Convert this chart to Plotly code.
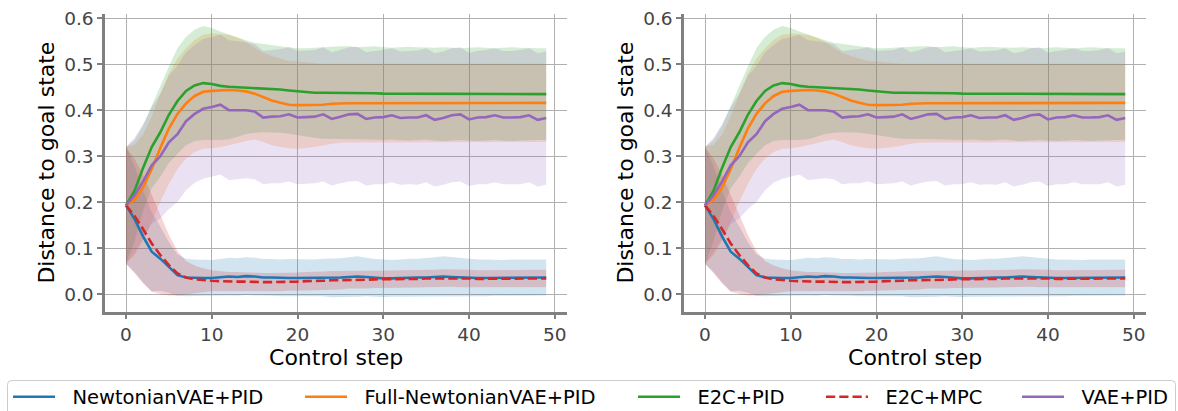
import plotly.graph_objects as go

# ---------------- data ----------------
steps = list(range(50))

names = ["NewtonianVAE+PID", "Full-NewtonianVAE+PID", "E2C+PID", "E2C+MPC", "VAE+PID"]
colors = ["#1f77b4", "#ff7f0e", "#2ca02c", "#d62728", "#9467bd"]

newtonian_mean = [0.193, 0.163, 0.125, 0.092, 0.077, 0.058, 0.041, 0.036, 0.035, 0.035,
                  0.035, 0.036, 0.038, 0.037, 0.039, 0.038, 0.036, 0.036, 0.035, 0.035,
                  0.035, 0.035, 0.035, 0.036, 0.035, 0.036, 0.037, 0.038, 0.037, 0.035,
                  0.034, 0.034, 0.035, 0.036, 0.036, 0.036, 0.037, 0.038, 0.037, 0.036,
                  0.035, 0.035, 0.035, 0.035, 0.035, 0.036, 0.036, 0.036, 0.036, 0.036]
newtonian_std = [0.127, 0.115, 0.100, 0.086, 0.070, 0.055, 0.045, 0.041, 0.040, 0.039,
                 0.039, 0.040, 0.041, 0.041, 0.041, 0.041, 0.040, 0.040, 0.040, 0.041,
                 0.041, 0.040, 0.040, 0.041, 0.042, 0.042, 0.043, 0.044, 0.042, 0.041,
                 0.041, 0.040, 0.040, 0.041, 0.041, 0.042, 0.043, 0.044, 0.043, 0.042,
                 0.041, 0.040, 0.040, 0.039, 0.039, 0.039, 0.039, 0.039, 0.039, 0.039]

full_mean = [0.193, 0.205, 0.232, 0.272, 0.318, 0.360, 0.392, 0.415, 0.431, 0.440,
             0.442, 0.443, 0.444, 0.443, 0.441, 0.436, 0.428, 0.421, 0.416, 0.412,
             0.411, 0.411, 0.411, 0.412, 0.414, 0.415, 0.415, 0.415, 0.415, 0.415,
             0.415, 0.416, 0.416, 0.416, 0.416, 0.416, 0.416, 0.416, 0.416, 0.416,
             0.416, 0.416, 0.416, 0.416, 0.416, 0.416, 0.416, 0.416, 0.416, 0.416]
full_std = [0.127, 0.120, 0.115, 0.115, 0.117, 0.120, 0.120, 0.120, 0.122, 0.124,
            0.125, 0.123, 0.120, 0.115, 0.108, 0.100, 0.097, 0.097, 0.096, 0.095,
            0.095, 0.093, 0.091, 0.089, 0.087, 0.086, 0.085, 0.085, 0.085, 0.085,
            0.085, 0.085, 0.085, 0.085, 0.085, 0.085, 0.085, 0.085, 0.085, 0.085,
            0.085, 0.085, 0.085, 0.085, 0.085, 0.085, 0.085, 0.085, 0.085, 0.085]

e2c_pid_mean = [0.193, 0.225, 0.275, 0.320, 0.352, 0.390, 0.420, 0.442, 0.454, 0.459,
                0.457, 0.453, 0.451, 0.450, 0.450, 0.449, 0.448, 0.447, 0.445, 0.443,
                0.441, 0.439, 0.438, 0.438, 0.438, 0.438, 0.438, 0.437, 0.437, 0.437,
                0.436, 0.436, 0.436, 0.436, 0.436, 0.436, 0.435, 0.435, 0.435, 0.435,
                0.435, 0.435, 0.435, 0.435, 0.435, 0.435, 0.435, 0.435, 0.435, 0.435]
e2c_pid_std = [0.127, 0.110, 0.092, 0.090, 0.097, 0.105, 0.115, 0.118, 0.121, 0.124,
               0.122, 0.118, 0.114, 0.108, 0.102, 0.098, 0.096, 0.095, 0.094, 0.094,
               0.094, 0.096, 0.098, 0.100, 0.100, 0.101, 0.101, 0.100, 0.101, 0.102,
               0.101, 0.100, 0.101, 0.102, 0.101, 0.100, 0.101, 0.102, 0.101, 0.100,
               0.101, 0.102, 0.101, 0.100, 0.101, 0.102, 0.101, 0.100, 0.100, 0.100]

e2c_mpc_mean = [0.193, 0.170, 0.141, 0.110, 0.085, 0.063, 0.045, 0.036, 0.032, 0.030,
                0.029, 0.028, 0.027, 0.027, 0.027, 0.026, 0.026, 0.026, 0.026, 0.027,
                0.027, 0.028, 0.028, 0.029, 0.030, 0.030, 0.031, 0.031, 0.031, 0.032,
                0.032, 0.032, 0.033, 0.033, 0.033, 0.034, 0.034, 0.035, 0.035, 0.034,
                0.034, 0.033, 0.033, 0.033, 0.033, 0.033, 0.033, 0.034, 0.034, 0.034]
e2c_mpc_std = [0.127, 0.125, 0.118, 0.105, 0.085, 0.066, 0.048, 0.036, 0.030, 0.026,
               0.023, 0.022, 0.021, 0.021, 0.020, 0.020, 0.020, 0.020, 0.020, 0.020,
               0.020, 0.020, 0.020, 0.020, 0.020, 0.020, 0.019, 0.019, 0.019, 0.019,
               0.019, 0.019, 0.019, 0.019, 0.019, 0.019, 0.019, 0.019, 0.019, 0.019,
               0.019, 0.019, 0.019, 0.019, 0.019, 0.019, 0.019, 0.019, 0.019, 0.019]

vae_mean = [0.193, 0.215, 0.245, 0.280, 0.300, 0.330, 0.348, 0.376, 0.392, 0.403,
            0.407, 0.412, 0.400, 0.400, 0.400, 0.397, 0.384, 0.386, 0.387, 0.391,
            0.384, 0.385, 0.386, 0.391, 0.381, 0.386, 0.391, 0.392, 0.381, 0.384,
            0.385, 0.389, 0.383, 0.384, 0.384, 0.389, 0.379, 0.383, 0.389, 0.391,
            0.380, 0.384, 0.385, 0.389, 0.384, 0.384, 0.385, 0.389, 0.379, 0.383]
vae_std = [0.127, 0.125, 0.125, 0.127, 0.135, 0.145, 0.148, 0.150, 0.150, 0.152,
           0.152, 0.152, 0.152, 0.150, 0.148, 0.147, 0.145, 0.145, 0.146, 0.146,
           0.145, 0.145, 0.145, 0.146, 0.145, 0.145, 0.146, 0.146, 0.145, 0.145,
           0.146, 0.146, 0.145, 0.145, 0.146, 0.146, 0.145, 0.145, 0.146, 0.146,
           0.145, 0.145, 0.146, 0.146, 0.145, 0.145, 0.146, 0.146, 0.145, 0.145]

means = [newtonian_mean, full_mean, e2c_pid_mean, e2c_mpc_mean, vae_mean]
stds = [newtonian_std, full_std, e2c_pid_std, e2c_mpc_std, vae_std]
dashes = ["solid", "solid", "solid", "9.25px,4px", "solid"]

x_ticks = [0, 10, 20, 30, 40, 50]
y_ticks = [0.0, 0.1, 0.2, 0.3, 0.4, 0.5, 0.6]

# ---------------- figure ----------------
W, H = 1178, 411
FONT = "DejaVu Sans"
NBSP = "\u00a0"


def rgba(hexc, a):
    h = hexc.lstrip("#")
    return f"rgba({int(h[0:2],16)},{int(h[2:4],16)},{int(h[4:6],16)},{a})"


fig = go.Figure()
legend_keys = ["legend", "legend2", "legend3", "legend4", "legend5"]
panels = [("x", "y"), ("x2", "y2")]

# shaded mean +/- std bands first
for p, (xa, ya) in enumerate(panels):
    for i in range(5):
        m, s = means[i], stds[i]
        upper = [a + b for a, b in zip(m, s)]
        lower = [a - b for a, b in zip(m, s)]
        fig.add_trace(go.Scatter(
            x=steps + steps[::-1], y=upper + lower[::-1], mode="lines",
            fill="toself", fillcolor=rgba(colors[i], 0.2), line=dict(width=0),
            xaxis=xa, yaxis=ya, showlegend=False, hoverinfo="skip"))

# mean lines on top
for p, (xa, ya) in enumerate(panels):
    for i in range(5):
        fig.add_trace(go.Scatter(
            x=steps, y=means[i], mode="lines", name=NBSP * 2 + names[i],
            line=dict(color=colors[i], width=2.6, dash=dashes[i]),
            xaxis=xa, yaxis=ya, showlegend=(p == 0), legend=legend_keys[i],
            hoverinfo="skip"))

axis_common = dict(
    showline=True, linecolor="#808080", linewidth=2.5, mirror=False,
    ticks="outside", ticklen=5, tickwidth=2, tickcolor="#808080",
    showgrid=True, gridcolor="#b0b0b0", gridwidth=1, zeroline=False,
    automargin=False,
    tickfont=dict(family=FONT, size=18.5, color="#444444"),
)

x_range = [-2.45, 51.45]
y_range = [-0.038, 0.61]
y_dom = [1 - 311.5 / H, 1 - 13.7 / H]

for xk, yk, dom in [("xaxis", "yaxis", [105 / W, 567.2 / W]),
                    ("xaxis2", "yaxis2", [684 / W, 1146.2 / W])]:
    anchor_y = "y" if yk == "yaxis" else "y2"
    anchor_x = "x" if xk == "xaxis" else "x2"
    fig.layout[xk] = dict(axis_common, domain=dom, range=x_range, anchor=anchor_y,
                          tickmode="array", tickvals=x_ticks,
                          ticktext=[str(v) for v in x_ticks],
                          title=dict(text="Control step", standoff=6,
                                     font=dict(family=FONT, size=22, color="black")))
    fig.layout[yk] = dict(axis_common, domain=y_dom, range=y_range, anchor=anchor_x,
                          tickmode="array", tickvals=y_ticks,
                          ticktext=[f"{v:.1f}" for v in y_ticks],
                          title=dict(text="Distance to goal state", standoff=4,
                                     font=dict(family=FONT, size=22, color="black")))

# legends: one per entry, positioned along the bottom row (container coords,
# so they do not push the margins)
legend_lefts = [8, 300, 633, 821, 1017]
leg_top = 377.5
for key, lx in zip(legend_keys, legend_lefts):
    fig.layout[key] = dict(
        x=lx / W, y=1 - leg_top / H, xref="container", yref="container",
        xanchor="left", yanchor="top",
        orientation="h", bgcolor="rgba(0,0,0,0)", borderwidth=0, itemwidth=42,
        font=dict(family=FONT, size=19.5, color="black"))

# legend frame (rounded box, bottom edge outside the picture)
def px(v):
    return v / W


def py(v):
    return 1 - v / H


l, r, t, b, rad = 7.5, 1175.5, 380.5, 440, 4
frame = (f"M {px(l + rad)},{py(t)} L {px(r - rad)},{py(t)} "
         f"Q {px(r)},{py(t)} {px(r)},{py(t + rad)} L {px(r)},{py(b)} "
         f"L {px(l)},{py(b)} L {px(l)},{py(t + rad)} "
         f"Q {px(l)},{py(t)} {px(l + rad)},{py(t)} Z")
fig.add_shape(type="path", path=frame, xref="paper", yref="paper",
              line=dict(color="#cccccc", width=1), fillcolor="rgba(0,0,0,0)")

fig.update_layout(
    width=W, height=H, margin=dict(l=0, r=0, t=0, b=0, autoexpand=False),
    paper_bgcolor="white", plot_bgcolor="white",
    font=dict(family=FONT),
)

fig.write_html("out.html")
